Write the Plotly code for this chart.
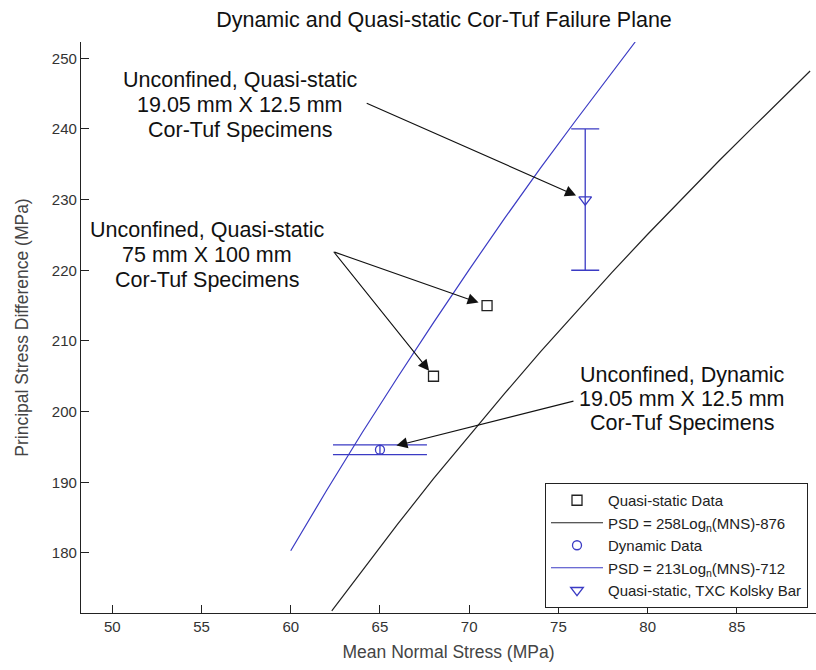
import plotly.graph_objects as go

# ---- data ----
qs_x = [68, 71]
qs_y = [205, 215]

dyn_x = [65]
dyn_y = [194.6]
dyn_err = [0.7]

kol_x = [76.5]
kol_y = [230]
kol_err = [10]

# curves: points
black_x = [62.3, 64, 66, 68, 70, 72, 74, 76, 78, 80, 82, 84, 86, 88, 89.1]
black_y = [171.8, 177.5, 184.1, 190.5, 196.6, 202.6, 208.5, 214.1, 219.7, 225.1,
           230.3, 235.5, 240.5, 245.4, 248.2]

blue_x = [60, 62, 64, 66, 68, 70, 72, 74, 76, 78, 79.3]
blue_y = [180.3, 188.8, 197.0, 204.9, 212.6, 220.1, 227.4, 234.5, 241.3, 248.0, 252.3]

x_ticks = [50, 55, 60, 65, 70, 75, 80, 85]
y_ticks = [180, 190, 200, 210, 220, 230, 240, 250]

BLUE = "#3b3bc4"
BLACK = "#222222"
FONT = "Liberation Sans, Arial, sans-serif"

W, H = 816, 670
L, R, T, B = 81, 0, 42, 57
pw, ph = W - L - R, H - T - B

fig = go.Figure()

fig.add_trace(go.Scatter(x=qs_x, y=qs_y, mode="markers", name="Quasi-static Data",
                         marker=dict(symbol="square-open", size=10, color=BLACK, line=dict(width=1.3))))
fig.add_trace(go.Scatter(x=black_x, y=black_y, mode="lines",
                         name="PSD = 258Log<sub>n</sub>(MNS)-876",
                         line=dict(color=BLACK, width=1.2)))
fig.add_trace(go.Scatter(x=dyn_x, y=dyn_y, mode="markers", name="Dynamic Data",
                         marker=dict(symbol="circle-open", size=9, color=BLUE, line=dict(width=1.3)),
                         error_y=dict(type="data", array=dyn_err, color=BLUE, thickness=1.3, width=47)))
fig.add_trace(go.Scatter(x=blue_x, y=blue_y, mode="lines",
                         name="PSD = 213Log<sub>n</sub>(MNS)-712",
                         line=dict(color=BLUE, width=1.2)))
fig.add_trace(go.Scatter(x=kol_x, y=kol_y, mode="markers", name="Quasi-static, TXC Kolsky Bar",
                         marker=dict(symbol="triangle-down-open", size=11, color=BLUE, line=dict(width=1.3)),
                         error_y=dict(type="data", array=kol_err, color=BLUE, thickness=1.3, width=14)))

# text blocks, one annotation per line (center x, first line y, spacing in px)
txt_font = dict(family=FONT, size=21.5, color="#111111")
blocks = [
    (["Unconfined, Quasi-static", "19.05 mm X 12.5 mm", "Cor-Tuf Specimens"], 240, 80, 25),
    (["Unconfined, Quasi-static", "75 mm X 100 mm", "Cor-Tuf Specimens"], 207, 230, 25),
    (["Unconfined, Dynamic", "19.05 mm X 12.5 mm", "Cor-Tuf Specimens"], 682, 375, 24),
]
for lines, px, py0, dy in blocks:
    for i, t in enumerate(lines):
        py = py0 + i * dy
        fig.add_annotation(text=t, xref="paper", yref="paper",
                           x=(px - L) / pw, y=1 - (py - T) / ph,
                           xanchor="center", yanchor="middle", showarrow=False,
                           font=txt_font)

# arrows (tip at data point with standoff, tail given as pixel offset)
arrows = [
    (kol_x[0], kol_y[0], -220, -97, 10),
    (qs_x[1], qs_y[1], -154, -54, 9),
    (qs_x[0], qs_y[0], -101, -126, 7),
    (dyn_x[0], dyn_y[0], 195, -49, 17),
]
for x, y, ax, ay, so in arrows:
    fig.add_annotation(x=x, y=y, ax=ax, ay=ay, text="", showarrow=True,
                       arrowhead=2, arrowsize=2.0, arrowwidth=1.1, arrowcolor="#111111",
                       standoff=so)

fig.update_layout(
    width=W, height=H,
    margin=dict(l=L, r=R, t=T, b=B, pad=0),
    paper_bgcolor="white", plot_bgcolor="white",
    font=dict(family=FONT, color="#333333"),
    title=dict(text="Dynamic and Quasi-static Cor-Tuf Failure Plane",
               x=444 / W, xanchor="center", y=1 - 19 / H, yanchor="middle",
               font=dict(family=FONT, size=21.5, color="#111111")),
    showlegend=True,
    legend=dict(x=1 - 8 / pw, y=5 / ph, xanchor="right", yanchor="bottom",
                bgcolor="white", bordercolor="#222222", borderwidth=1,
                font=dict(family=FONT, size=15, color="#222222"),
                tracegroupgap=0, itemwidth=52),
    xaxis=dict(range=[48.25, 89.43], tickvals=x_ticks, ticks="inside", ticklen=8,
               tickcolor="#222222", showline=True, linecolor="#222222", linewidth=1.3,
               showgrid=False, zeroline=False, tickfont=dict(size=15, color="#333333"),
               title=dict(text="Mean Normal Stress (MPa)", font=dict(size=17.5, color="#444444"),
                          standoff=11)),
    yaxis=dict(range=[171.5, 252.3], tickvals=y_ticks, ticks="inside", ticklen=8,
               tickcolor="#222222", showline=True, linecolor="#222222", linewidth=1.3,
               showgrid=False, zeroline=False, tickfont=dict(size=15, color="#333333"),
               title=dict(text="Principal Stress Difference (MPa)", font=dict(size=17.5, color="#444444"),
                          standoff=18)),
)

fig.write_html("out.html")
